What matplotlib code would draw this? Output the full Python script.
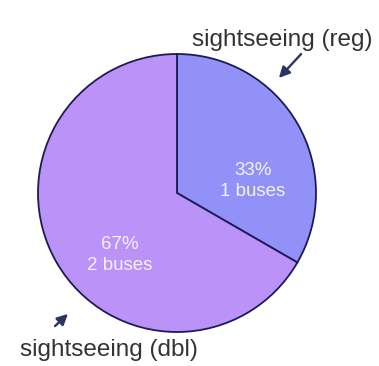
import matplotlib
matplotlib.use("Agg")
import matplotlib.pyplot as plt

# data
categories = ["sightseeing (reg)", "sightseeing (dbl)"]
buses = [1, 2]
colors = ["#9191f7", "#bb92f8"]

plt.rcParams['font.family'] = ['Liberation Sans', 'DejaVu Sans']

fig = plt.figure(figsize=(3.79, 3.66), dpi=100)
# pie centre ~ (177, 193) px, radius ~ 139 px
cx, cy, r = 177, 193, 139
ax = fig.add_axes([(cx - r) / 379, (366 - cy - r) / 366, 2 * r / 379, 2 * r / 366])

wedges, _ = ax.pie(buses, colors=colors, startangle=90, counterclock=False,
                   wedgeprops=dict(edgecolor="#1c1c55", linewidth=1.3))
ax.set_xlim(-1, 1)
ax.set_ylim(-1, 1)
ax.set_aspect("auto")
ax.axis("off")

def px(x, y):
    return ((x - cx) / r, (cy - y) / r)

total = sum(buses)
inner_pos = [(253, 181), (120, 255)]
for n, p in zip(buses, inner_pos):
    ax.text(*px(*p), f"{n / total:.0%}\n{n} buses", color="#f4f2ff", fontsize=13.5,
            ha="center", va="center", linespacing=1.3)

# outer labels with arrows
label_pos = [(282, 40), (109, 350)]
arrows = [((303, 52), (277, 80)), ((53, 328), (70, 312))]
for name, (lx, ly), (tail, head) in zip(categories, label_pos, arrows):
    ax.text(*px(lx, ly), name, color="#333333", fontsize=17.5,
            ha="center", va="center", clip_on=False)
    ax.annotate("", xy=px(*head), xytext=px(*tail),
                arrowprops=dict(arrowstyle="-|>", color="#2a3566", lw=1.7,
                                mutation_scale=16),
                annotation_clip=False)

fig.savefig("out.png", dpi=100)
